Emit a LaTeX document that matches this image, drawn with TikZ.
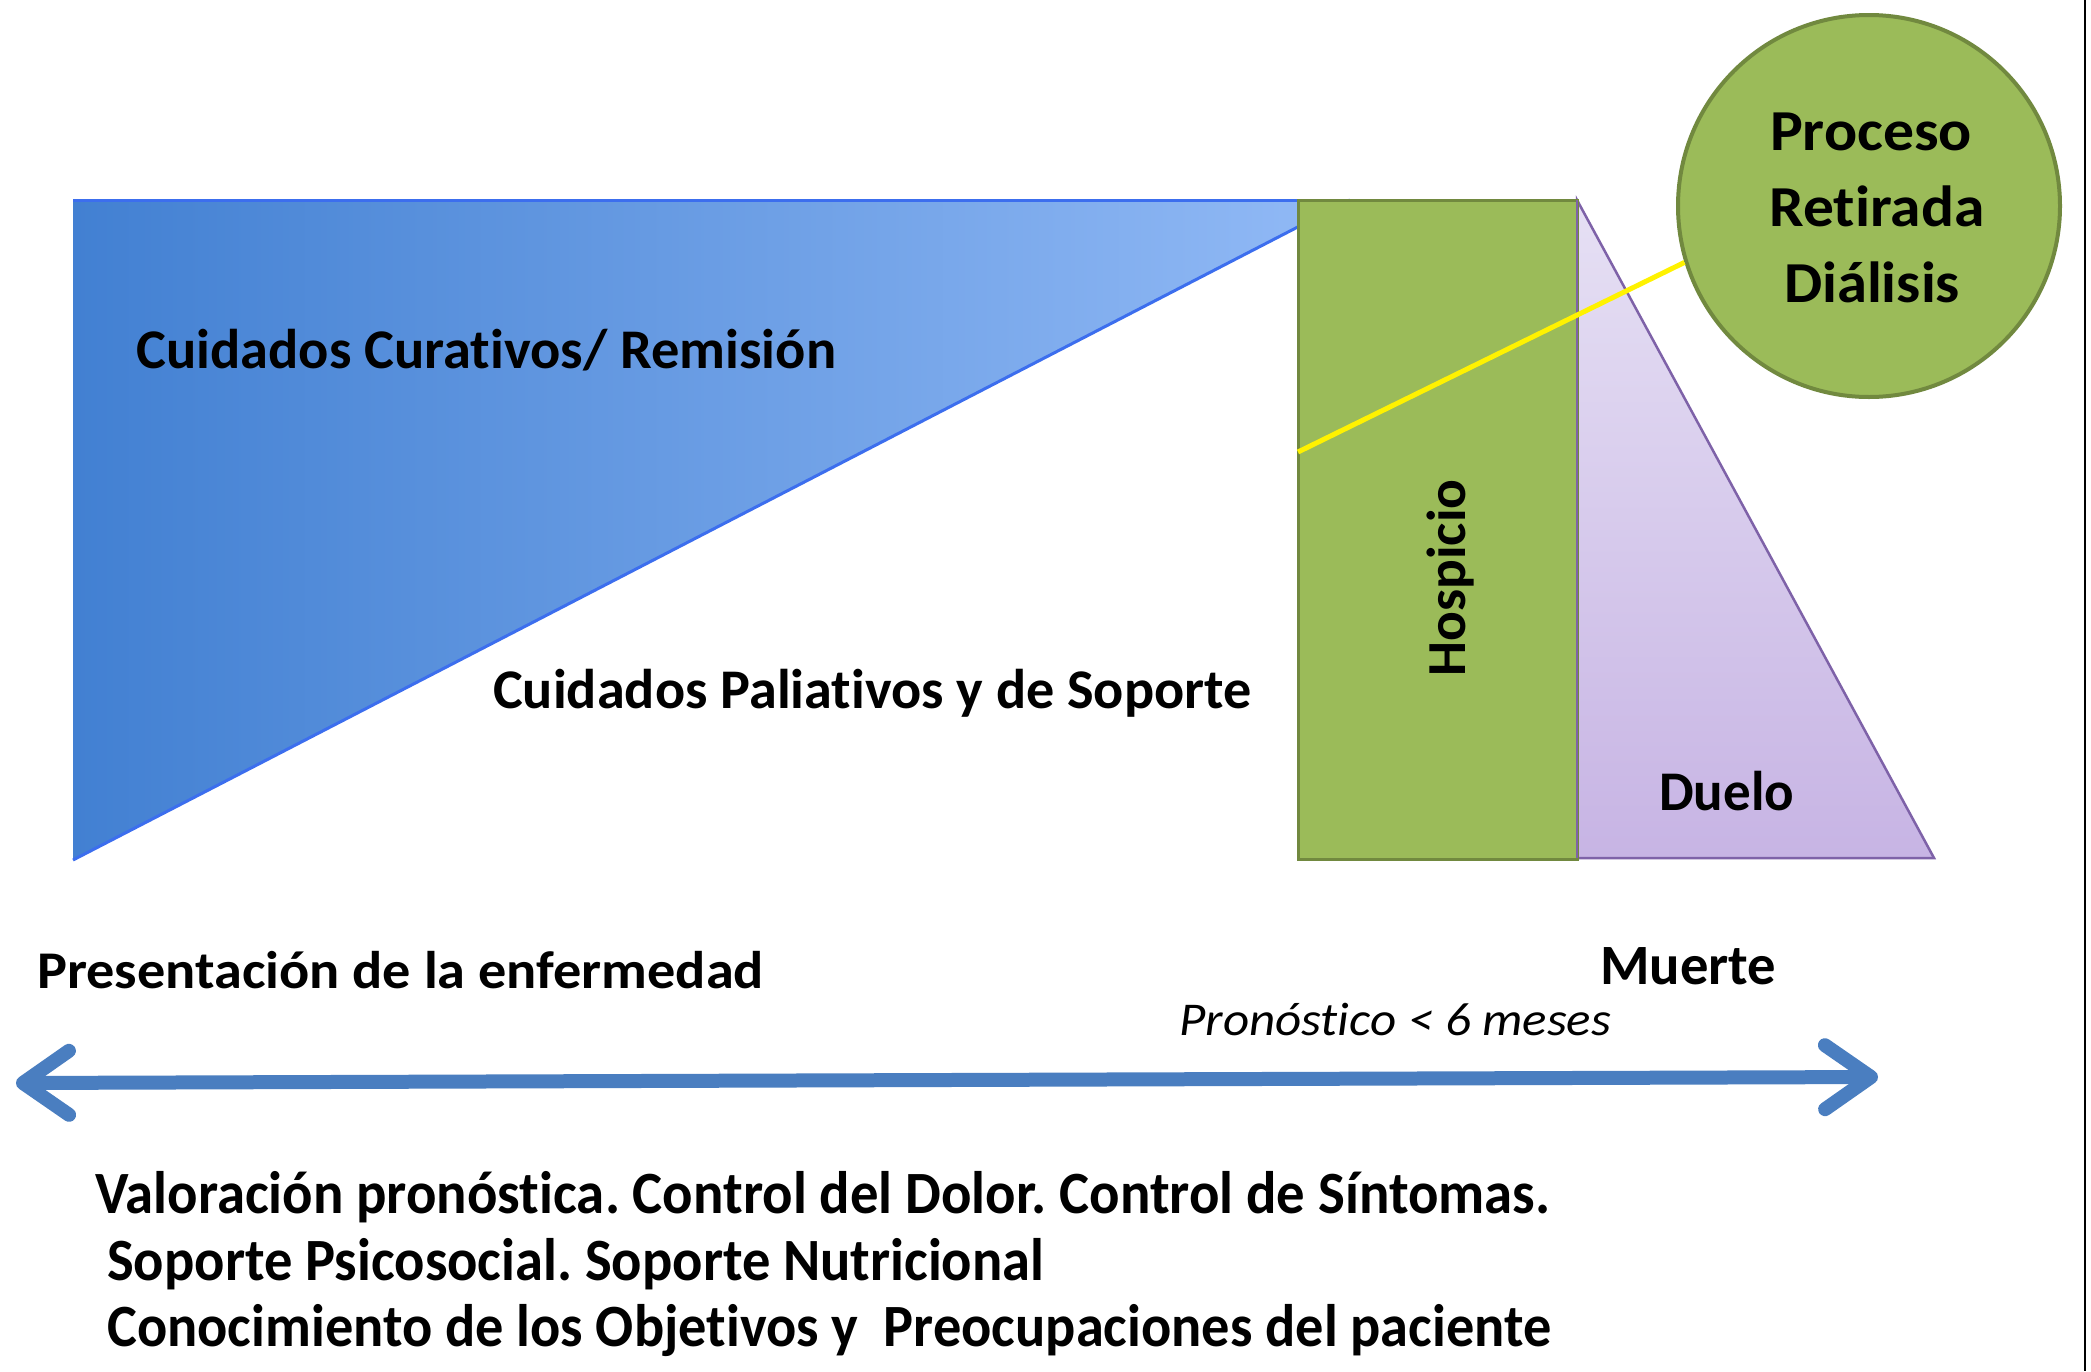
\documentclass[tikz,border=0pt]{standalone}
\usepackage{graphicx}
\usepackage{fontspec}
\setmainfont{Carlito}[Ligatures=NoCommon]
\usetikzlibrary{arrows.meta}
\frenchspacing
\definecolor{gfill}{HTML}{9BBB59}
\definecolor{gline}{HTML}{71893F}
\definecolor{bleft}{HTML}{4280D2}
\definecolor{bright}{HTML}{92BAF6}
\definecolor{bedge}{HTML}{3C6EEE}
\definecolor{ptop}{HTML}{E6E0F4}
\definecolor{pbot}{HTML}{C7B4E4}
\definecolor{pedge}{HTML}{7E62A8}
\definecolor{arrblue}{HTML}{4A7EC0}
\newcommand\fs[1]{\fontsize{#1}{#1}\selectfont}
\newcommand\fitto[2]{\setbox0=\hbox{#2}\pgfmathsetmacro\fitr{#1/\the\wd0}\scalebox{\fitr}[1]{\box0}}
\tikzset{
  lbl/.style={inner sep=0pt, anchor=base west},
  ctr/.style={inner sep=0pt, anchor=base},
  arr/.style={line width=14pt, draw=arrblue,
    {Straight Barb[length=46pt,width=64pt,round]}-{Straight Barb[length=46pt,width=64pt,round]}},
}
\begin{document}
\begin{tikzpicture}[x=1pt,y=-1pt]
\useasboundingbox (0,0) rectangle (2091,1371);
\fill[white] (0,0) rectangle (2091,1371);
% right border line
\draw[black, line width=2.5pt] (2085,0) -- (2085,1371);
% blue triangle
\path[left color=bleft, right color=bright, shading angle=90] (73,200) -- (1350,200) -- (73,860) -- cycle;
\draw[bedge, line width=3pt] (73,200) -- (1350,200);
\draw[bedge, line width=3pt] (1350,200) -- (73,860);
% purple triangle
\path[top color=ptop, bottom color=pbot, draw=pedge, line width=2.5pt] (1577,200) -- (1934,858) -- (1577,858) -- cycle;
% green rectangle
\draw[fill=gfill, draw=gline, line width=3pt] (1298,200) rectangle (1577,859);
\draw[pedge, line width=2.5pt] (1577,200) -- (1577,858);
\coordinate (yend) at (1298,452);
% circle
\node[circle, fill=gfill, draw=gline, line width=4pt, minimum size=382pt, inner sep=0pt] (circ) at (1869,206) {};
\draw[yellow, line width=5pt] (circ.197) -- (yend);
% texts
\node[lbl, font=\fs{56}\bfseries] (cur) at (136,368) {\fitto{700}{Cuidados Curativos/ Remisión}};
\node[lbl, font=\fs{56}\bfseries] (pal) at (493,708) {\fitto{758}{Cuidados Paliativos y de Soporte}};
\node[ctr, rotate=90, font=\fs{55}\bfseries] (hosp) at (1465,578) {\fitto{197}{Hospicio}};
\node[lbl, font=\fs{56}\bfseries] (duelo) at (1659,810) {\fitto{135}{Duelo}};
\node[ctr, font=\fs{58}\bfseries] (p1) at (1871,150) {\fitto{202}{Proceso}};
\node[ctr, font=\fs{58}\bfseries] (p2) at (1877,226) {\fitto{215}{Retirada}};
\node[ctr, font=\fs{58}\bfseries] (p3) at (1872,302) {\fitto{176}{Diálisis}};
\node[lbl, font=\fs{53}\bfseries] (pres) at (37,988) {\fitto{727}{Presentación de la enfermedad}};
\node[lbl, font=\fs{57}\bfseries] (muerte) at (1600,984) {\fitto{176}{Muerte}};
\node[lbl, font=\fs{47}\itshape] (pron) at (1179,1035) {\fitto{432}{Pronóstico < 6 meses}};
% arrow
\coordinate (aL) at (16,1083);
\coordinate (aR) at (1878,1077);
\draw[arr] (aL) -- (aR);
% bottom text
\node[lbl, font=\fs{60}\bfseries] (b1) at (95,1213) {\fitto{1455}{Valoración pronóstica. Control del Dolor. Control de Síntomas.}};
\node[lbl, font=\fs{60}\bfseries] (b2) at (107,1280) {\fitto{937}{Soporte Psicosocial. Soporte Nutricional}};
\node[lbl, font=\fs{60}\bfseries] (b3) at (107,1346) {\fitto{1444}{Conocimiento de los Objetivos y\ \ Preocupaciones del paciente}};
\end{tikzpicture}
\end{document}
